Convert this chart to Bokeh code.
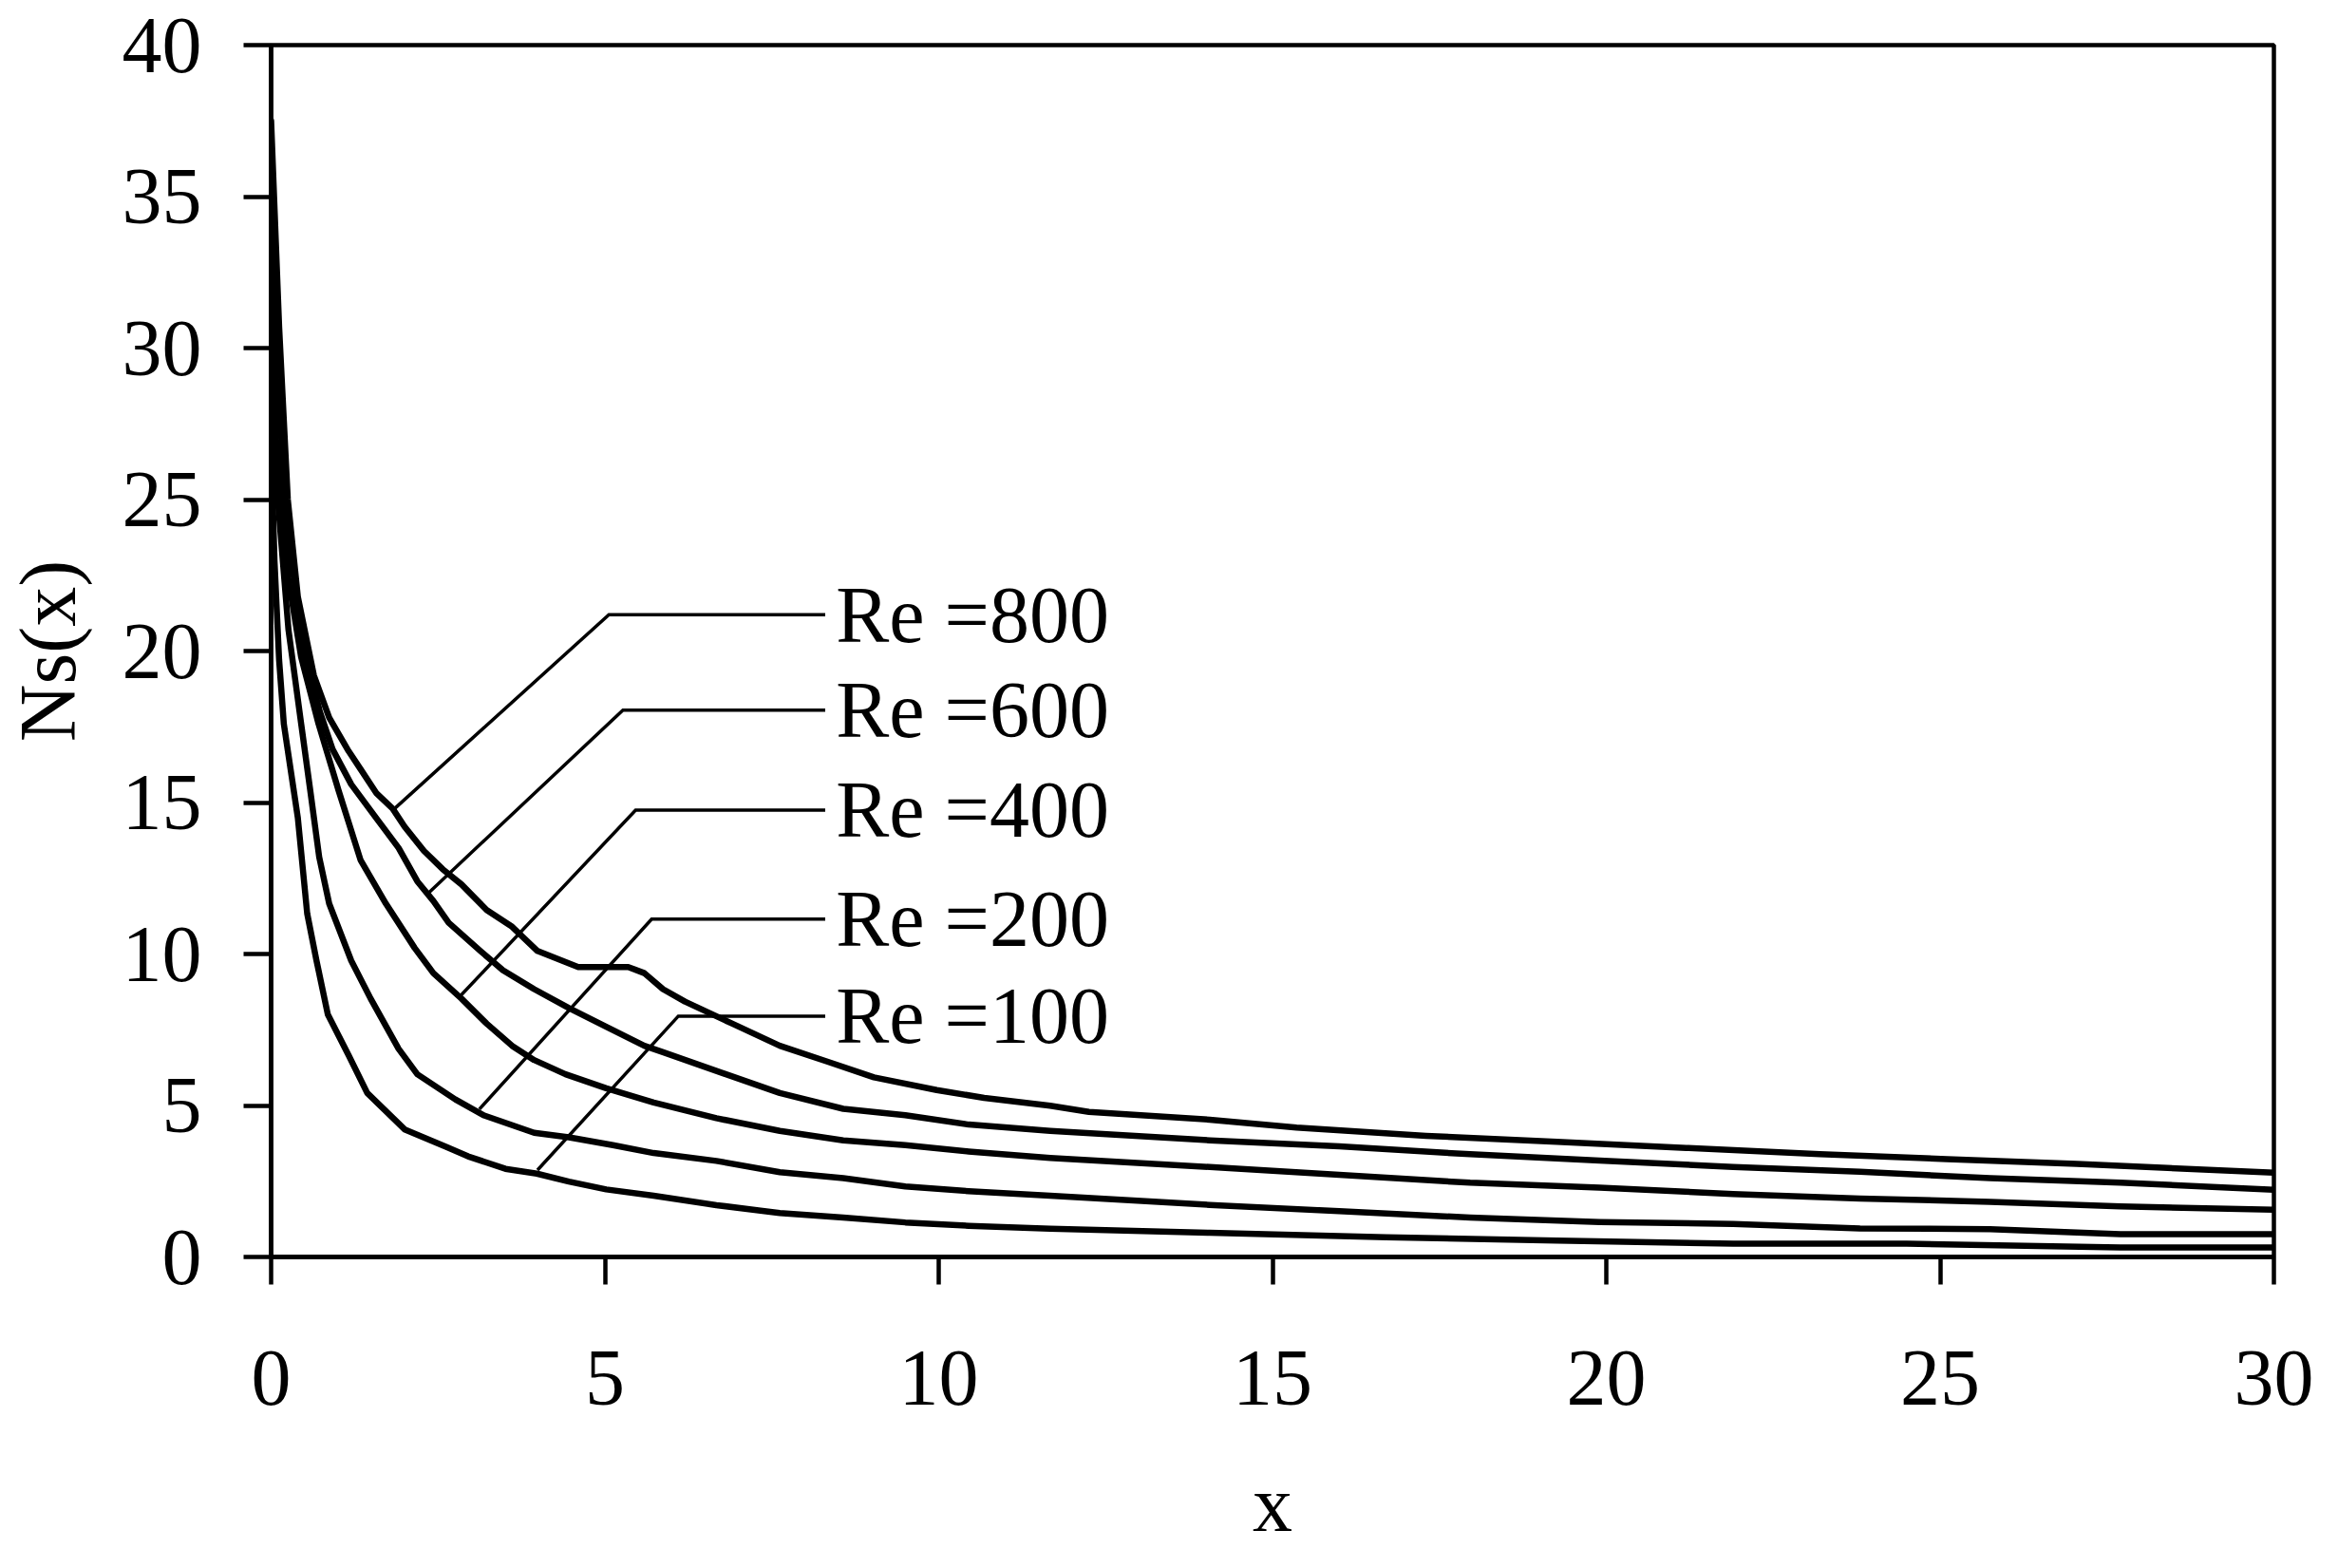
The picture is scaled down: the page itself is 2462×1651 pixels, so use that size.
from bokeh.plotting import figure
from bokeh.models import Range1d, FixedTicker, ColumnDataSource
from bokeh.core.properties import value
from bokeh.embed import file_html
from bokeh.resources import INLINE

# ---------------- data ----------------
re800_x = [0, 0.12, 0.25, 0.4, 0.64, 0.87, 1.16, 1.34, 1.58, 1.82, 2.0, 2.29, 2.57, 2.85, 3.23, 3.61,
           3.99, 4.6, 5.35, 5.59, 5.87, 6.2, 6.91, 7.62, 8.33, 9.03, 9.97, 10.68, 11.67, 12.25, 14.06,
           15.36, 17.3, 19.26, 21.2, 23.2, 25.1, 27.05, 30]
re800_y = [37.5, 30.7, 25.0, 21.8, 19.2, 17.8, 16.7, 16.1, 15.3, 14.8, 14.2, 13.4, 12.8, 12.3, 11.45, 10.9,
           10.1, 9.57, 9.57, 9.37, 8.84, 8.43, 7.7, 6.97, 6.45, 5.93, 5.51, 5.25, 4.99, 4.79, 4.53,
           4.27, 4.0, 3.8, 3.6, 3.39, 3.23, 3.07, 2.78]

re600_x = [0, 0.1, 0.25, 0.5, 0.73, 0.92, 1.2, 1.58, 1.91, 2.19, 2.43, 2.66, 3.14, 3.47, 3.94, 4.46,
           5.02, 5.59, 5.87, 6.67, 7.62, 8.57, 9.5, 10.45, 11.67, 14.06, 16.0, 17.96, 19.9, 21.9,
           23.8, 25.75, 27.7, 30]
re600_y = [36, 29, 23.8, 20.0, 18.0, 16.76, 15.6, 14.47, 13.5, 12.4, 11.75, 11.03, 10.09, 9.47, 8.84, 8.22,
           7.6, 6.97, 6.76, 6.14, 5.41, 4.89, 4.68, 4.37, 4.16, 3.85, 3.65, 3.39, 3.18, 2.97,
           2.81, 2.6, 2.45, 2.22]

re400_x = [0, 0.1, 0.25, 0.45, 0.71, 1.01, 1.34, 1.72, 2.15, 2.43, 2.85, 3.23, 3.61, 3.94, 4.41, 5.02,
           5.73, 6.67, 7.62, 8.57, 9.5, 10.45, 11.67, 14.06, 16.0, 17.96, 19.9, 21.9, 23.8, 25.75,
           27.7, 30]
re400_y = [34, 27, 22.5, 19.8, 17.6, 15.4, 13.1, 11.66, 10.2, 9.37, 8.53, 7.7, 6.97, 6.5, 6.03, 5.57,
           5.1, 4.58, 4.16, 3.85, 3.69, 3.48, 3.27, 2.97, 2.71, 2.45, 2.29, 2.08, 1.93, 1.82,
           1.67, 1.56]

re200_x = [0, 0.1, 0.26, 0.45, 0.58, 0.72, 0.87, 1.2, 1.49, 1.91, 2.19, 2.76, 3.18, 3.94, 4.46, 5.12,
           5.73, 6.67, 7.62, 8.57, 9.5, 10.45, 11.67, 14.06, 16.0, 17.96, 19.9, 21.9, 23.8, 25.75,
           27.7, 30]
re200_y = [31, 25, 20.7, 17.6, 15.5, 13.2, 11.66, 9.78, 8.53, 6.87, 6.03, 5.2, 4.68, 4.1, 3.95, 3.69,
           3.43, 3.17, 2.8, 2.6, 2.33, 2.17, 2.02, 1.72, 1.51, 1.30, 1.15, 1.09, 0.94, 0.92,
           0.75, 0.75]

re100_x = [0, 0.05, 0.12, 0.19, 0.4, 0.54, 0.68, 0.85, 1.16, 1.44, 2.0, 2.62, 2.95, 3.51, 3.98, 4.46,
           5.02, 5.73, 6.67, 7.62, 8.57, 9.5, 10.45, 11.67, 14.06, 16.7, 19.26, 21.9, 24.5, 27.7, 30]
re100_y = [27, 23, 19.7, 17.6, 14.5, 11.34, 9.78, 8.0, 6.66, 5.41, 4.21, 3.64, 3.32, 2.91, 2.75, 2.49,
           2.23, 2.02, 1.71, 1.45, 1.30, 1.14, 1.03, 0.93, 0.80, 0.65, 0.54, 0.44, 0.44, 0.31, 0.31]

# curve labels and their leader lines
label_texts = ["Re =800", "Re =600", "Re =400", "Re =200", "Re =100"]
label_y = [21.2, 18.05, 14.75, 11.15, 7.95]
label_x = 8.46
leader_right_x = 8.3
leader_kink_x = [5.06, 5.27, 5.46, 5.70, 6.10]
leader_end_x = [1.85, 2.35, 2.85, 3.12, 3.99]
leader_end_y = [14.8, 12.0, 8.65, 4.88, 2.87]

x_ticks = [0, 5, 10, 15, 20, 25, 30]
y_ticks = [0, 5, 10, 15, 20, 25, 30, 35, 40]
x_title = "x"
y_title = "Ns(x)"

FONT = "Liberation Serif"
FS = "84px"

# ---------------- figure ----------------
W, H = 2446, 1635
p = figure(width=W, height=H, output_backend="svg", toolbar_location=None,
           x_range=Range1d(0, 30), y_range=Range1d(0, 40),
           x_axis_label=x_title, y_axis_label=y_title,
           min_border_left=285, min_border_right=52, min_border_top=47,
           min_border_bottom=H - 1323)
p.background_fill_color = "white"
p.border_fill_color = "white"
p.outline_line_color = "black"
p.outline_line_width = 4.5
p.grid.visible = False

for ax, ticks in ((p.xaxis[0], x_ticks), (p.yaxis[0], y_ticks)):
    ax.ticker = FixedTicker(ticks=ticks)
    ax.axis_line_width = 4.5
    ax.axis_line_color = "black"
    ax.major_tick_line_width = 4.5
    ax.major_tick_line_color = "black"
    ax.major_tick_out = 29
    ax.major_tick_in = 0
    ax.minor_tick_line_color = None
    ax.major_label_text_font = FONT
    ax.major_label_text_font_size = FS
    ax.major_label_text_color = "black"
    ax.axis_label_text_font = FONT
    ax.axis_label_text_font_size = FS
    ax.axis_label_text_font_style = "normal"
    ax.axis_label_text_color = "black"
p.xaxis[0].major_label_standoff = 70
p.yaxis[0].major_label_standoff = 44
p.xaxis[0].axis_label_standoff = 55
p.yaxis[0].axis_label_standoff = 29

# curves
for xs, ys in ((re800_x, re800_y), (re600_x, re600_y), (re400_x, re400_y),
               (re200_x, re200_y), (re100_x, re100_y)):
    p.line(xs, ys, line_color="black", line_width=6.5, line_join="round", line_cap="round")

# leader lines
lx, ly = [], []
for i in range(len(label_texts)):
    lx.append([leader_end_x[i], leader_kink_x[i], leader_right_x])
    ly.append([leader_end_y[i], label_y[i], label_y[i]])
p.multi_line(lx, ly, line_color="black", line_width=3.5, line_join="miter")

lab_src = ColumnDataSource(dict(x=[label_x] * len(label_texts), y=label_y, t=label_texts))
p.text(x="x", y="y", text="t", source=lab_src, text_font=value(FONT), text_font_size=FS,
       text_color="black", text_align="left", text_baseline="middle")

open("out.html", "w").write(file_html(p, INLINE))
